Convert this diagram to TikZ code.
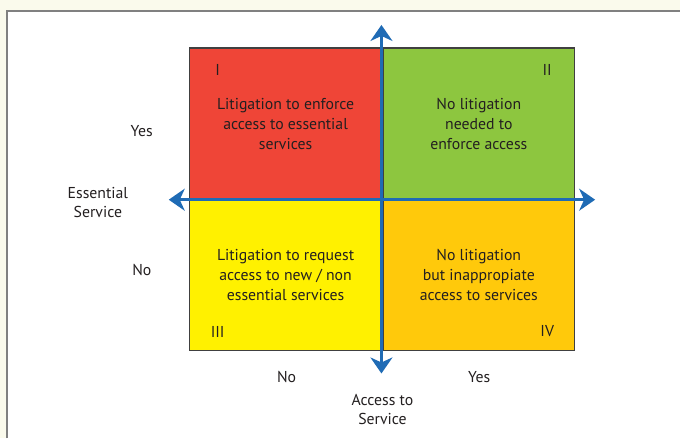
\documentclass[tikz,border=0pt]{standalone}
\usepackage{fontspec}
\setmainfont{PT Sans}
\usetikzlibrary{arrows.meta}

\definecolor{qred}{HTML}{EF4537}
\definecolor{qgreen}{HTML}{8DC63F}
\definecolor{qyellow}{HTML}{FFF100}
\definecolor{qorange}{HTML}{FFC90B}
\definecolor{axisblue}{HTML}{1F6BB5}
\definecolor{boxgray}{HTML}{404040}
\definecolor{txtgray}{HTML}{231F20}
\definecolor{cream}{HTML}{FAFAEC}
\definecolor{framegray}{HTML}{808080}

\tikzset{
  quad/.style={draw=boxgray, line width=1.5pt, minimum width=192pt, minimum height=152pt,
    align=center, text=txtgray, font=\fontsize{15.8}{20}\selectfont, inner sep=0pt},
  numeral/.style={text=txtgray, font=\fontsize{15.8}{20}\selectfont, inner sep=0pt},
  side/.style={text=txtgray, align=center, font=\fontsize{15.8}{19}\selectfont, inner sep=0pt},
  axis/.style={draw=axisblue, line width=2.5pt,
    {Stealth[length=16pt, width=22pt, inset=5pt]}-{Stealth[length=16pt, width=22pt, inset=5pt]}}
}

\begin{document}
\begin{tikzpicture}[x=1pt, y=-1pt]
        % page and frame
        \fill[cream] (0, 0) rectangle (681, 439);
        \fill[white] (7, 11) rectangle (681, 439);
        \draw[framegray, line width=2pt] (7, 439) -- (7, 11) -- (681, 11);
        \useasboundingbox (0, 0) rectangle (681, 439);

        % quadrants
        \node[quad, fill=qred] (q1) at (286, 124) {Litigation to enforce\\access to essential\\services};
        \node[quad, fill=qgreen] (q2) at (479.5, 124) {No litigation\\needed to\\enforce access};
        \node[quad, fill=qyellow, minimum height=151pt] (q3) at (286, 275.5) {Litigation to request\\access to new / non\\essential services};
        \node[quad, fill=qorange, minimum height=151pt] (q4) at (479.5, 275.5) {No litigation\\but inappropiate\\access to services};

        \node[numeral] (n1) at (218, 70) {I};
        \node[numeral] (n2) at (548, 70) {II};
        \node[numeral] (n3) at (218, 332) {III};
        \node[numeral] (n4) at (548, 332) {IV};

        % axes
        \coordinate (ytop) at (382, 25);
        \coordinate (ybot) at (382, 374);
        \coordinate (xleft) at (169, 200);
        \coordinate (xright) at (596, 200);
        \draw[axis] (ybot) -- (ytop);
        \draw[axis] (xleft) -- (xright);

        % labels
        \node[side] (yes1) at (142, 131) {Yes};
        \node[side] (no1) at (142, 270) {No};
        \node[side] (ess) at (98, 203) {Essential\\Service};
        \node[side] (no2) at (287, 378) {No};
        \node[side] (yes2) at (480, 378) {Yes};
        \node[side] (acc) at (383, 410) {Access to\\Service};
    \end{tikzpicture}
\end{document}
